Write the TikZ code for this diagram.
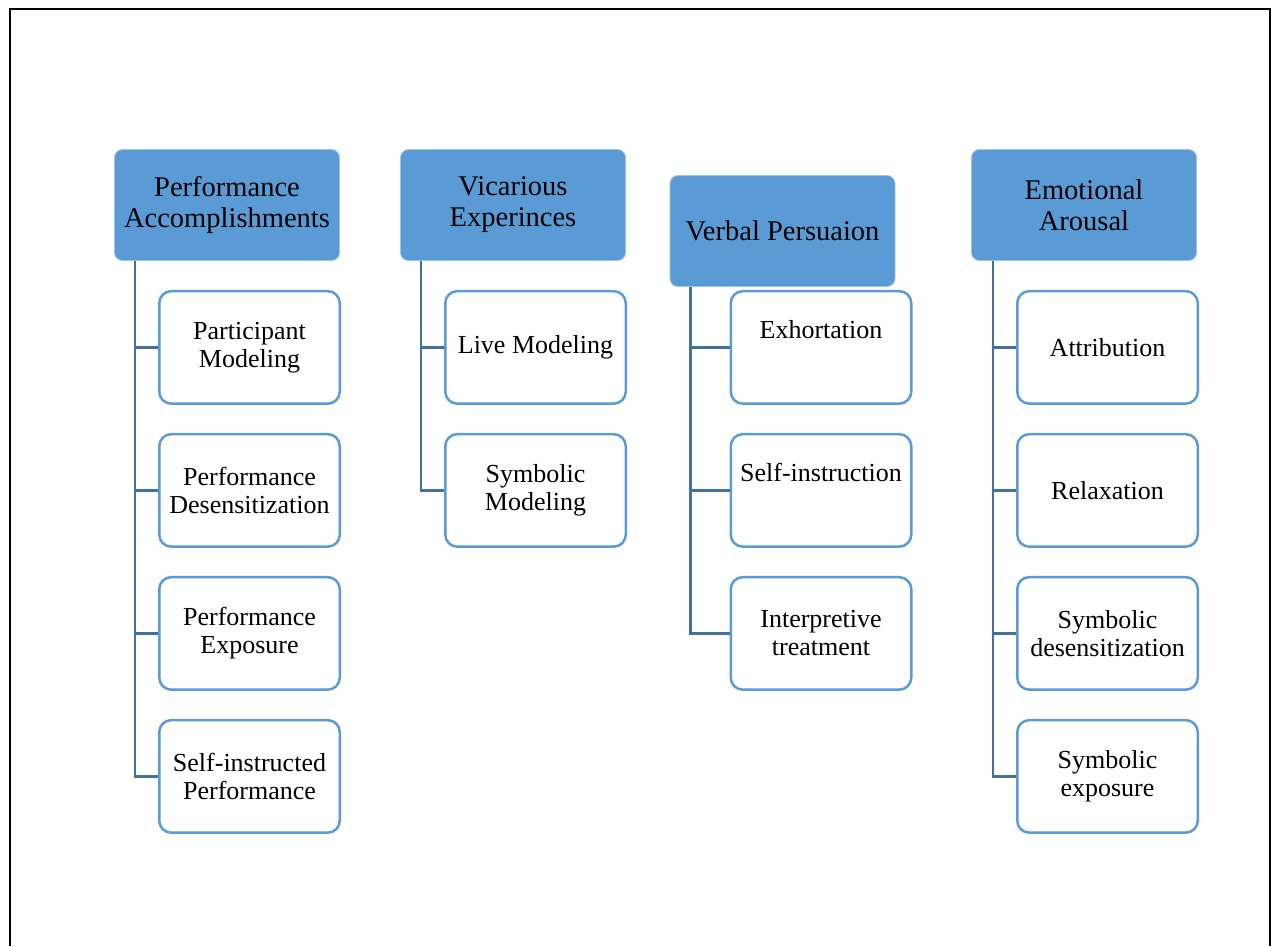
\documentclass[tikz,border=0pt]{standalone}
\usepackage{fontspec}
\setmainfont{Liberation Serif}
\usepackage{xcolor}
\usetikzlibrary{positioning}
\definecolor{headblue}{HTML}{5B9BD5}
\definecolor{linkblue}{HTML}{41719C}

\begin{document}
\begin{tikzpicture}[x=1pt, y=-1pt, node distance=28pt]
	\tikzstyle{head} = [rectangle, draw=headblue!60!white, fill=headblue, line width=0.8pt,
	align=center, rounded corners=8pt, minimum width=225pt, minimum height=111pt,
	inner sep=0pt, font=\fontsize{28.5}{31}\selectfont]
	\tikzstyle{item} = [rectangle, draw=headblue, fill=white, line width=2.5pt,
	align=center, rounded corners=12pt, minimum width=180.5pt, minimum height=112.5pt,
	inner sep=0pt, font=\fontsize{26}{28}\selectfont]
	\tikzstyle{line} = [draw=linkblue, line width=2.5pt]
	\useasboundingbox (0,0) rectangle (1271,946);
	% Frame
	\draw [line width=2pt] (10,946) -- (10,9) -- (1269.5,9) -- (1269.5,946);
	% Place nodes
	\node [head] (perf) at (227,205) {Performance\\Accomplishments};
	\node [item, below=29pt of perf, xshift=22.5pt] (partic) {Participant\\Modeling};
	\node [item, below=of partic] (perfdes) {Performance\\Desensitization};
	\node [item, below=of perfdes] (perfexp) {Performance\\Exposure};
	\node [item, below=of perfexp] (selfperf) {Self-instructed\\Performance};

	\node [head] (vicar) at (513,205) {Vicarious\\Experinces};
	\node [item, below=29pt of vicar, xshift=22.5pt] (livemod) {Live Modeling};
	\node [item, below=of livemod] (symbmod) {Symbolic\\Modeling};

	\node [head] (verbal) at (782.5,231) {Verbal Persuaion};
	\node [item, below=3pt of verbal, xshift=38.5pt] (exhort) {Exhortation\\[8pt]\mbox{}};
	\node [item, below=of exhort] (selfinst) {Self-instruction\\[8pt]\mbox{}};
	\node [item, below=of selfinst] (interp) {Interpretive\\treatment};

	\node [head] (emot) at (1084,205) {Emotional\\Arousal};
	\node [item, below=29pt of emot, xshift=23.5pt] (attrib) {Attribution};
	\node [item, below=of attrib] (relax) {Relaxation};
	\node [item, below=of relax] (symbdes) {Symbolic\\desensitization};
	\node [item, below=of symbdes] (symbexp) {Symbolic\\exposure};

	% Trunk points under the headers
	\coordinate (perftrunk) at ([xshift=21pt]perf.south west);
	\coordinate (vicartrunk) at ([xshift=21pt]vicar.south west);
	\coordinate (verbaltrunk) at ([xshift=21pt]verbal.south west);
	\coordinate (emottrunk) at ([xshift=22pt]emot.south west);

	% Draw edges
	\foreach \c in {partic, perfdes, perfexp, selfperf}
		\path [line] (perftrunk) |- (\c.west);
	\foreach \c in {livemod, symbmod}
		\path [line] (vicartrunk) |- (\c.west);
	\foreach \c in {exhort, selfinst, interp}
		\path [line] (verbaltrunk) |- (\c.west);
	\foreach \c in {attrib, relax, symbdes, symbexp}
		\path [line] (emottrunk) |- (\c.west);
\end{tikzpicture}
\end{document}
